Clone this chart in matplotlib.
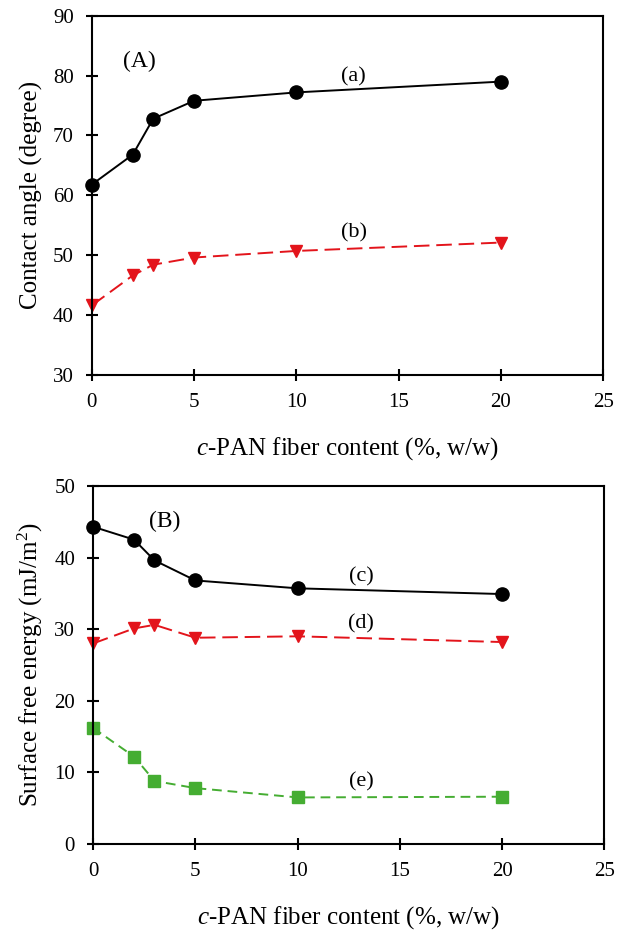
import matplotlib
matplotlib.use("Agg")
import matplotlib.pyplot as plt

plt.rcParams["font.family"] = ["Liberation Serif", "DejaVu Serif"]
plt.rcParams["mathtext.fontset"] = "custom"
plt.rcParams["mathtext.rm"] = "Liberation Serif"
plt.rcParams["mathtext.it"] = "Liberation Serif:italic"

# fibre content (%, w/w)
content = [0, 2, 3, 5, 10, 20]

# (A) contact angle (degree)
angle_a = [61.8, 66.8, 72.8, 75.8, 77.2, 79.0]
angle_b = [41.6, 46.6, 48.4, 49.6, 50.7, 52.1]

# (B) surface free energy (mJ/m2)
energy_c = [44.3, 42.5, 39.6, 36.8, 35.7, 34.9]
energy_d = [28.0, 30.1, 30.6, 28.8, 29.0, 28.2]
energy_e = [16.2, 12.2, 8.8, 7.8, 6.5, 6.6]

RED = "#e3141b"
GREEN = "#45ad32"
XLABEL = r"$\it{c}$-PAN fiber content (%, w/w)"

fig = plt.figure(figsize=(6.25, 9.3), dpi=100)
ax1 = fig.add_axes([0.147, 0.597, 0.818, 0.386])
ax2 = fig.add_axes([0.149, 0.0925, 0.818, 0.385])


def style(ax):
    for sp in ax.spines.values():
        sp.set_linewidth(1.5)
    ax.tick_params(direction="inout", length=8, width=1.5, labelsize=15, pad=9)
    ax.set_xlim(0, 25)
    ax.set_xticks([0, 5, 10, 15, 20, 25])
    ax.set_xlabel(XLABEL, fontsize=18, labelpad=17)
    ax.yaxis.set_label_coords(-0.095, 0.5)


# (A)
ax1.plot(content, angle_a, "-", color="black", lw=1.4, marker="o", ms=9.5, clip_on=False)
ax1.plot(content, angle_b, "--", color=RED, lw=1.4, dashes=(8, 3.5), marker="v", ms=8.5, clip_on=False)
ax1.set_ylim(30, 90)
ax1.set_yticks(range(30, 91, 10))
ax1.set_ylabel("Contact angle (degree)", fontsize=18)
ax1.text(2.3, 82.3, "(A)", fontsize=17, ha="center", va="center")
ax1.text(12.8, 79.8, "(a)", fontsize=16, ha="center", va="center")
ax1.text(12.8, 53.7, "(b)", fontsize=16, ha="center", va="center")
style(ax1)

# (B)
ax2.plot(content, energy_c, "-", color="black", lw=1.4, marker="o", ms=9.5, clip_on=False)
ax2.plot(content, energy_d, "--", color=RED, lw=1.4, dashes=(8, 3.5), marker="v", ms=8.5, clip_on=False)
ax2.plot(content, energy_e, "--", color=GREEN, lw=1.4, dashes=(5, 3), marker="s", ms=8, clip_on=False)
ax2.set_ylim(0, 50)
ax2.set_yticks(range(0, 51, 10))
ax2.set_ylabel(r"Surface free energy (mJ/m$^2$)", fontsize=18)
ax2.text(3.5, 45.0, "(B)", fontsize=17, ha="center", va="center")
ax2.text(13.1, 37.3, "(c)", fontsize=16, ha="center", va="center")
ax2.text(13.1, 30.8, "(d)", fontsize=16, ha="center", va="center")
ax2.text(13.1, 8.7, "(e)", fontsize=16, ha="center", va="center")
style(ax2)

fig.savefig("out.png", dpi=100)
